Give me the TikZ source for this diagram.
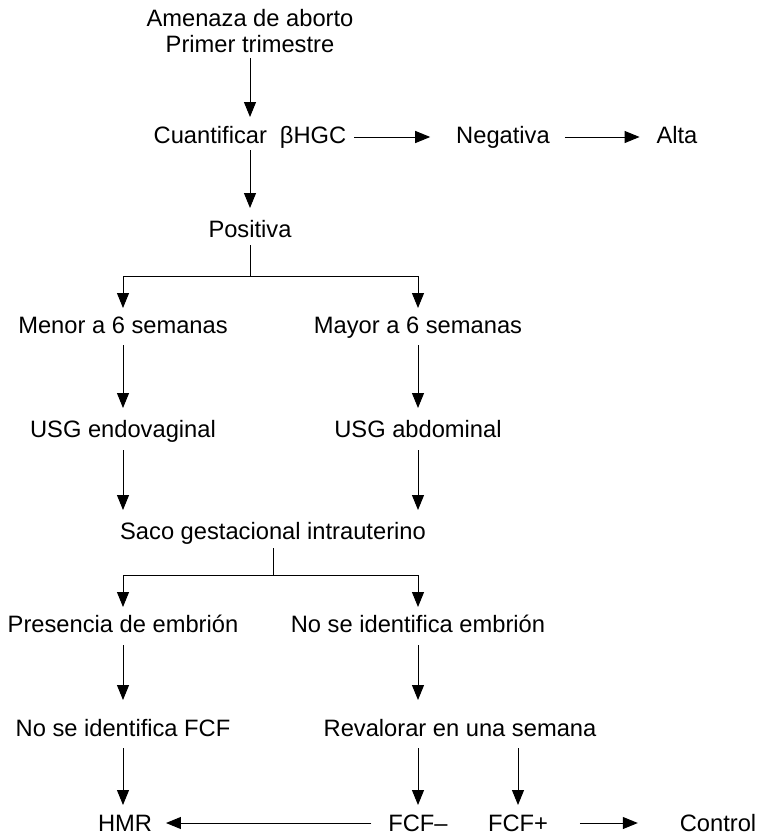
\documentclass[tikz,border=0pt]{standalone}
\usepackage{fontspec}
\setmainfont{Liberation Sans}
\usetikzlibrary{arrows.meta}
\begin{document}
\begin{tikzpicture}[x=1pt,y=-1pt,
  lbl/.style={inner sep=0pt,outer sep=0pt,text height=17pt,text depth=5pt,anchor=base,
    font=\fontsize{23.7}{26}\selectfont},
  ln/.style={line width=1pt},
  arr/.style={line width=1pt,-{Triangle[length=15pt,width=12pt]}}]
\useasboundingbox[fill=white] (0,0) rectangle (757,835);
% nodes
\node[lbl] (amen) at (250,26) {Amenaza de aborto};
\node[lbl] (prim) at (250,52) {Primer trimestre};
\node[lbl] (cuant) at (250,143) {Cuantificar\hspace{0.55em}βHGC};
\node[lbl] (neg) at (503,143) {Negativa};
\node[lbl] (alta) at (677,143) {Alta};
\node[lbl] (pos) at (250,237) {Positiva};
\node[lbl] (menor) at (123,333) {Menor a 6 semanas};
\node[lbl] (mayor) at (418,333) {Mayor a 6 semanas};
\node[lbl] (usgen) at (123,437) {USG endovaginal};
\node[lbl] (usgab) at (418,437) {USG abdominal};
\node[lbl] (saco) at (273,539) {Saco gestacional intrauterino};
\node[lbl] (pres) at (123,632) {Presencia de embrión};
\node[lbl] (nosemb) at (418,632) {No se identifica embrión};
\node[lbl] (nofcf) at (123,736) {No se identifica FCF};
\node[lbl] (reval) at (460,736) {Revalorar en una semana};
\node[lbl] (hmr) at (125,831) {HMR};
\node[lbl] (fcfm) at (418,831) {FCF–};
\node[lbl] (fcfp) at (518,831) {FCF+};
\node[lbl] (ctrl) at (718,831) {Control};
\coordinate (s1) at (250,276);
\coordinate (s2) at (273,575);
% connectors
\draw[arr,shorten <=1pt,shorten >=9pt] (prim.south) -- (cuant.north);
\draw[arr,shorten <=8pt,shorten >=26pt] (cuant.east) -- (neg.west);
\draw[arr,shorten <=15pt,shorten >=17pt] (neg.east) -- (alta.west);
\draw[arr,shorten <=2pt,shorten >=12pt] (cuant.south) -- (pos.north);
\draw[ln,shorten <=3pt] (pos.south) -- (s1);
\draw[arr,shorten >=8pt] (s1) -| (menor.north);
\draw[arr,shorten >=8pt] (s1) -| (mayor.north);
\draw[arr,shorten <=7pt,shorten >=12pt] (menor.south) -- (usgen.north);
\draw[arr,shorten <=7pt,shorten >=12pt] (mayor.south) -- (usgab.north);
\draw[arr,shorten <=8pt,shorten >=12pt] (usgen.south) -- (saco.north -| usgen.south);
\draw[arr,shorten <=8pt,shorten >=12pt] (usgab.south) -- (saco.north -| usgab.south);
\draw[ln,shorten <=4pt] (saco.south) -- (s2);
\draw[arr,shorten >=8pt] (s2) -| (pres.north);
\draw[arr,shorten >=8pt] (s2) -| (nosemb.north);
\draw[arr,shorten <=8pt,shorten >=19pt] (pres.south) -- (nofcf.north);
\draw[arr,shorten <=8pt,shorten >=19pt] (nosemb.south) -- (reval.north -| nosemb.south);
\draw[arr,shorten <=7pt,shorten >=9pt] (nofcf.south) -- (hmr.north -| nofcf.south);
\draw[arr,shorten <=7pt,shorten >=9pt] (reval.south -| fcfm.north) -- (fcfm.north);
\draw[arr,shorten <=7pt,shorten >=9pt] (reval.south -| fcfp.north) -- (fcfp.north);
\draw[arr,shorten <=17pt,shorten >=14pt] ([yshift=8pt]fcfm.base west) -- ([yshift=8pt]hmr.base east);
\draw[arr,shorten <=32pt,shorten >=42pt] ([yshift=8pt]fcfp.base east) -- ([yshift=8pt]ctrl.base west);
\end{tikzpicture}
\end{document}
